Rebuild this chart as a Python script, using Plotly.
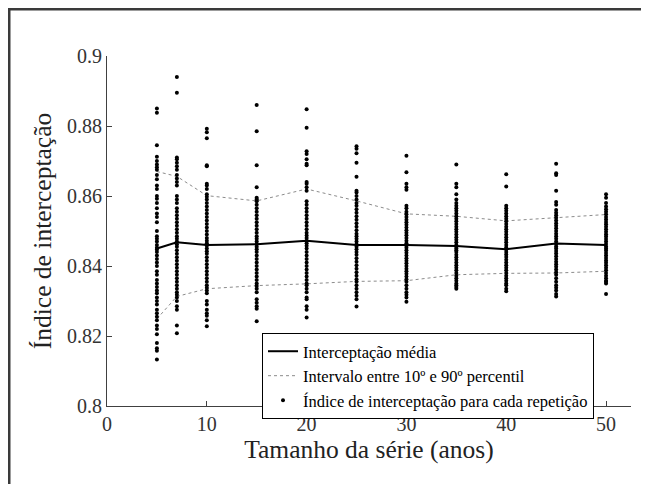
import plotly.graph_objects as go

# ---- data ----
series_sizes = [5, 7, 10, 15, 20, 25, 30, 35, 40, 45, 50]

mean_interception = [0.8450, 0.8468, 0.8460, 0.8462, 0.8472, 0.8460, 0.8460, 0.8457, 0.8448, 0.8464, 0.8460]
p90_interception = [0.8670, 0.8656, 0.8601, 0.8586, 0.8620, 0.8586, 0.8549, 0.8542, 0.8529, 0.8539, 0.8547]
p10_interception = [0.8249, 0.8313, 0.8335, 0.8344, 0.8349, 0.8356, 0.8358, 0.8375, 0.8379, 0.8380, 0.8385]

rep_5 = [0.8850, 0.8838, 0.8745, 0.8712, 0.8700, 0.8690, 0.8682, 0.8675, 0.8660, 0.8648, 0.8630, 0.8620, 0.8600,
         0.8592, 0.8580, 0.8565, 0.8550, 0.8540, 0.8525, 0.8500, 0.8485, 0.8478, 0.8470, 0.8460, 0.8452, 0.8447,
         0.8440, 0.8430, 0.8420, 0.8410, 0.8400, 0.8385, 0.8375, 0.8360, 0.8350, 0.8340, 0.8330, 0.8322, 0.8310,
         0.8300, 0.8290, 0.8275, 0.8265, 0.8255, 0.8245, 0.8230, 0.8220, 0.8205, 0.8180, 0.8165, 0.8158, 0.8133]
rep_7 = [0.8940, 0.8895, 0.8710, 0.8705, 0.8695, 0.8685, 0.8675, 0.8660, 0.8650, 0.8640, 0.8630, 0.8600, 0.8590,
         0.8580, 0.8565, 0.8555, 0.8545, 0.8535, 0.8525, 0.8515, 0.8505, 0.8495, 0.8485, 0.8478, 0.8470, 0.8462,
         0.8455, 0.8445, 0.8435, 0.8425, 0.8415, 0.8405, 0.8395, 0.8385, 0.8375, 0.8365, 0.8355, 0.8345, 0.8335,
         0.8325, 0.8318, 0.8310, 0.8300, 0.8285, 0.8275, 0.8230, 0.8208]
rep_10 = [0.8792, 0.8782, 0.8765, 0.8688, 0.8685, 0.8635, 0.8630, 0.8620, 0.8605, 0.8598, 0.8590, 0.8580, 0.8570,
          0.8560, 0.8550, 0.8540, 0.8530, 0.8520, 0.8510, 0.8500, 0.8490, 0.8480, 0.8472, 0.8465, 0.8458, 0.8450,
          0.8442, 0.8435, 0.8425, 0.8415, 0.8405, 0.8395, 0.8385, 0.8375, 0.8365, 0.8355, 0.8345, 0.8338, 0.8330,
          0.8322, 0.8300, 0.8290, 0.8275, 0.8265, 0.8258, 0.8245, 0.8228]
rep_15 = [0.8860, 0.8785, 0.8688, 0.8625, 0.8595, 0.8590, 0.8585, 0.8575, 0.8565, 0.8555, 0.8545, 0.8535, 0.8525,
          0.8515, 0.8505, 0.8495, 0.8485, 0.8478, 0.8470, 0.8462, 0.8455, 0.8448, 0.8440, 0.8430, 0.8420, 0.8410,
          0.8400, 0.8390, 0.8380, 0.8370, 0.8360, 0.8350, 0.8343, 0.8335, 0.8325, 0.8305, 0.8295, 0.8285, 0.8278,
          0.8242]
rep_20 = [0.8848, 0.8795, 0.8728, 0.8720, 0.8705, 0.8692, 0.8688, 0.8640, 0.8635, 0.8625, 0.8615, 0.8585, 0.8575,
          0.8565, 0.8555, 0.8545, 0.8535, 0.8525, 0.8515, 0.8505, 0.8495, 0.8487, 0.8480, 0.8472, 0.8465, 0.8458,
          0.8450, 0.8440, 0.8430, 0.8420, 0.8410, 0.8400, 0.8390, 0.8380, 0.8370, 0.8360, 0.8350, 0.8345, 0.8335,
          0.8325, 0.8310, 0.8305, 0.8285, 0.8275, 0.8253]
rep_25 = [0.8742, 0.8735, 0.8722, 0.8695, 0.8655, 0.8615, 0.8610, 0.8600, 0.8590, 0.8580, 0.8572, 0.8562, 0.8552,
          0.8542, 0.8532, 0.8522, 0.8512, 0.8502, 0.8492, 0.8485, 0.8478, 0.8470, 0.8462, 0.8455, 0.8448, 0.8440,
          0.8432, 0.8422, 0.8412, 0.8402, 0.8392, 0.8382, 0.8372, 0.8362, 0.8355, 0.8345, 0.8335, 0.8325, 0.8315,
          0.8305, 0.8284]
rep_30 = [0.8715, 0.8668, 0.8635, 0.8625, 0.8618, 0.8572, 0.8565, 0.8555, 0.8548, 0.8540, 0.8532, 0.8525, 0.8518,
          0.8510, 0.8502, 0.8495, 0.8488, 0.8480, 0.8472, 0.8465, 0.8458, 0.8452, 0.8445, 0.8438, 0.8430, 0.8422,
          0.8415, 0.8408, 0.8400, 0.8392, 0.8385, 0.8378, 0.8370, 0.8362, 0.8355, 0.8345, 0.8335, 0.8325, 0.8318,
          0.8310, 0.8298]
rep_35 = [0.8690, 0.8635, 0.8625, 0.8605, 0.8590, 0.8580, 0.8572, 0.8565, 0.8558, 0.8550, 0.8542, 0.8535, 0.8528,
          0.8520, 0.8512, 0.8505, 0.8498, 0.8490, 0.8482, 0.8475, 0.8468, 0.8460, 0.8455, 0.8450, 0.8445, 0.8440,
          0.8432, 0.8425, 0.8418, 0.8410, 0.8402, 0.8395, 0.8388, 0.8380, 0.8372, 0.8365, 0.8358, 0.8350, 0.8345,
          0.8340, 0.8335]
rep_40 = [0.8662, 0.8627, 0.8572, 0.8565, 0.8558, 0.8550, 0.8542, 0.8535, 0.8528, 0.8520, 0.8512, 0.8505, 0.8498,
          0.8490, 0.8482, 0.8475, 0.8468, 0.8460, 0.8453, 0.8447, 0.8440, 0.8433, 0.8426, 0.8418, 0.8410, 0.8402,
          0.8395, 0.8388, 0.8380, 0.8372, 0.8365, 0.8358, 0.8350, 0.8345, 0.8335, 0.8328]
rep_45 = [0.8692, 0.8665, 0.8660, 0.8615, 0.8583, 0.8575, 0.8560, 0.8552, 0.8545, 0.8538, 0.8530, 0.8522, 0.8515,
          0.8508, 0.8500, 0.8492, 0.8485, 0.8478, 0.8470, 0.8463, 0.8456, 0.8450, 0.8443, 0.8436, 0.8428, 0.8420,
          0.8412, 0.8405, 0.8398, 0.8390, 0.8382, 0.8375, 0.8365, 0.8355, 0.8345, 0.8338, 0.8330, 0.8320, 0.8313]
rep_50 = [0.8605, 0.8595, 0.8580, 0.8570, 0.8562, 0.8555, 0.8548, 0.8540, 0.8533, 0.8526, 0.8519, 0.8512, 0.8505,
          0.8498, 0.8491, 0.8484, 0.8477, 0.8470, 0.8463, 0.8456, 0.8450, 0.8444, 0.8437, 0.8430, 0.8423, 0.8416,
          0.8409, 0.8402, 0.8395, 0.8388, 0.8380, 0.8372, 0.8365, 0.8358, 0.8350, 0.8355, 0.8320]

repetitions = [rep_5, rep_7, rep_10, rep_15, rep_20, rep_25, rep_30, rep_35, rep_40, rep_45, rep_50]

x_tick_vals = [0, 10, 20, 30, 40, 50]
y_tick_vals = [0.8, 0.82, 0.84, 0.86, 0.88, 0.9]
y_tick_text = ["0.8", "0.82", "0.84", "0.86", "0.88", "0.9"]

legend_labels = ["Interceptação média",
                 "Intervalo entre 10º e 90º percentil",
                 "Índice de interceptação para cada repetição"]

# ---- figure (page body adds an 8px offset) ----
OFF = 8
W, H = 641, 476
ML, MR, MT, MB = 99, 18, 48, 78
PW, PH = W - ML - MR, H - MT - MB
FONT = "Liberation Serif"

scatter_x, scatter_y = [], []
for s, vals in zip(series_sizes, repetitions):
    scatter_x += [s] * len(vals)
    scatter_y += vals

band_x = series_sizes + [None] + series_sizes
band_y = p90_interception + [None] + p10_interception

fig = go.Figure()
fig.add_trace(go.Scatter(x=series_sizes, y=mean_interception, mode="lines",
                         line=dict(color="black", width=2), name=legend_labels[0]))
fig.add_trace(go.Scatter(x=band_x, y=band_y, mode="lines",
                         line=dict(color="#8c8c8c", width=1, dash="dot"), name=legend_labels[1]))
fig.add_trace(go.Scatter(x=scatter_x, y=scatter_y, mode="markers",
                         marker=dict(color="black", size=4, symbol="circle"), name=legend_labels[2]))


def px(xp):
    # window pixel -> paper x
    return (xp - OFF - ML) / PW


def py(yp):
    # window pixel -> paper y
    return (H - MB - (yp - OFF)) / PH


fig.add_shape(type="rect", xref="paper", yref="paper",
              x0=px(9), x1=px(645), y0=py(500), y1=py(9),
              line=dict(color="#3a3a3a", width=3), fillcolor="rgba(0,0,0,0)")

axis_common = dict(showgrid=False, zeroline=False, showline=True, linecolor="#404040", linewidth=1,
                   ticks="inside", ticklen=5, tickcolor="#404040", mirror=False,
                   tickfont=dict(family=FONT, size=20, color="#333333"))

fig.update_layout(
    width=W, height=H,
    margin=dict(l=ML, r=MR, t=MT, b=MB),
    paper_bgcolor="white", plot_bgcolor="white",
    font=dict(family=FONT, color="#222222"),
    showlegend=True,
    legend=dict(x=px(262), y=py(333), xanchor="left", yanchor="top",
                bgcolor="white", bordercolor="black", borderwidth=1,
                font=dict(family=FONT, size=16.5, color="black"),
                tracegroupgap=0, itemwidth=30),
    xaxis=dict(range=[0, 52.5], tickvals=x_tick_vals,
               title=dict(text="Tamanho da série (anos)", font=dict(family=FONT, size=25.5, color="#222222"),
                          standoff=6),
               **axis_common),
    yaxis=dict(range=[0.8, 0.9], tickvals=y_tick_vals, ticktext=y_tick_text,
               title=dict(text="Índice de interceptação", font=dict(family=FONT, size=25.5, color="#222222"),
                          standoff=8),
               **axis_common),
)

fig.write_html("out.html")
